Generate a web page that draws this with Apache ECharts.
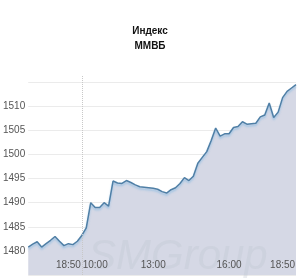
<html>
<head>
<meta charset="UTF-8">
<script src="https://cdnjs.cloudflare.com/ajax/libs/echarts/6.0.0/echarts.min.js"></script>
</head>
<body style="margin:0">
<div id="chart" style="width:300px;height:280px"></div>
<script>
// индекс ММВБ: конец прошлой сессии + текущий день
var values = [
  1480.8, 1481.4, 1481.9, 1480.8, 1481.5, 1482.2, 1483.0, 1482.0, 1481.1, 1481.5,
  1481.3, 1482.0, 1483.2, 1484.8, 1490.0, 1489.0, 1489.0, 1490.0, 1489.3, 1494.5,
  1494.1, 1494.0, 1494.6, 1494.2, 1493.7, 1493.3, 1493.2, 1493.1, 1493.0, 1492.8,
  1492.3, 1492.0, 1492.7, 1493.1, 1494.0, 1495.2, 1494.6, 1495.5, 1498.2, 1499.4,
  1500.6, 1502.9, 1505.5, 1503.8, 1504.3, 1504.3, 1505.6, 1505.8, 1506.8, 1506.3,
  1506.4, 1506.5, 1507.8, 1508.2, 1510.7, 1507.7, 1508.8, 1511.8, 1513.1, 1513.8,
  1514.5
];
var categories = values.map(function (v, i) { return String(i); });
var tickLabels = { 9: '18:50', 15: '10:00', 28: '13:00', 45: '16:00', 57: '18:50' };
var yLabels = [1480, 1485, 1490, 1495, 1500, 1505, 1510];
var sessionStart = 12;

var chart = echarts.init(document.getElementById('chart'));
chart.setOption({
  animation: false,
  title: {
    text: 'Индекс\nММВБ',
    left: 'center',
    top: 19,
    textStyle: { fontFamily: 'Liberation Sans', fontSize: 10, fontWeight: 'bold', color: '#111', lineHeight: 15 }
  },
  grid: { left: 27, right: 4, top: 75, bottom: 5 },
  xAxis: {
    type: 'category',
    data: categories,
    boundaryGap: false,
    z: 20,
    axisLine: { show: false },
    axisTick: { show: false },
    axisLabel: {
      inside: true,
      margin: 5,
      interval: 0,
      formatter: function (v, i) { return tickLabels[i] || ''; },
      fontFamily: 'Liberation Sans', fontSize: 10, color: '#555'
    }
  },
  yAxis: {
    type: 'value',
    min: 1475,
    max: 1516.5,
    interval: 5,
    axisLine: { show: false },
    axisTick: { show: false },
    axisLabel: {
      margin: 3,
      showMaxLabel: false,
      formatter: function (v) { return yLabels.indexOf(v) >= 0 ? String(v) : ''; },
      fontFamily: 'Liberation Sans', fontSize: 10, color: '#555'
    },
    splitLine: { showMaxLine: false, lineStyle: { color: '#ebebeb' } }
  },
  graphic: [{
    type: 'text',
    left: 88,
    top: 236,
    z: 10,
    style: {
      text: 'SMGroup',
      font: 'italic 42px "Liberation Sans"',
      fill: 'rgba(190,194,206,0.3)'
    }
  }],
  series: [{
    type: 'line',
    data: values,
    symbol: 'none',
    lineStyle: { color: '#4f7fa6', width: 1.5, shadowColor: 'rgba(120,180,225,0.6)', shadowBlur: 2, shadowOffsetY: 2 },
    areaStyle: { color: '#d5d8e5', opacity: 1 },
    markLine: {
      silent: true,
      symbol: 'none',
      label: { show: false },
      lineStyle: { color: '#c8c8c8', type: 'dotted', width: 1 },
      data: [{ xAxis: sessionStart }]
    }
  }]
});
</script>
</body>
</html>
